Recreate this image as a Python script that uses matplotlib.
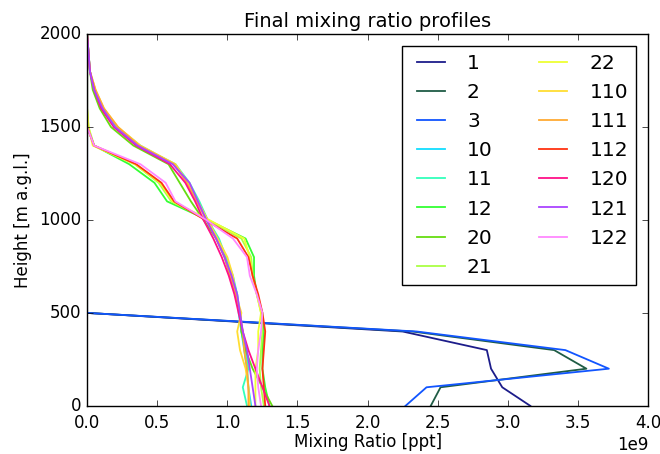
import matplotlib
matplotlib.use("Agg")
import matplotlib.pyplot as plt
import numpy as np

plt.style.use("classic")

heights = [0, 100, 200, 300, 400, 500, 600, 700, 800, 900, 1000,
           1100, 1200, 1300, 1400, 1500, 1600, 1700, 1800, 1900, 2000]

labels = ["1", "2", "3", "10", "11", "12", "20", "21", "22",
          "110", "111", "112", "120", "121", "122"]

colors = ["#1c1c8a", "#1f5c45", "#1155ff", "#11ddff", "#33ffbb", "#33ff33",
          "#66dd11", "#aaff44", "#eeff33", "#ffdd33", "#ffaa33", "#ff3311",
          "#ff1188", "#aa44ff", "#ff88ff"]

# values in units of 1e9 ppt
s1 = [3.16, 2.96, 2.88, 2.85, 2.25, 0, 0, 0, 0, 0, 0, 0, 0, 0, 0, 0, 0, 0, 0, 0, 0]
s2 = [2.45, 2.52, 3.56, 3.33, 2.32, 0, 0, 0, 0, 0, 0, 0, 0, 0, 0, 0, 0, 0, 0, 0, 0]
s3 = [2.27, 2.42, 3.72, 3.41, 2.35, 0, 0, 0, 0, 0, 0, 0, 0, 0, 0, 0, 0, 0, 0, 0, 0]
s10 = [1.17, 1.15, 1.14, 1.12, 1.10, 1.08, 1.07, 1.03, 0.99, 0.93, 0.86, 0.79, 0.72, 0.62, 0.38, 0.21, 0.11, 0.05, 0.02, 0.01, 0.0]
s11 = [1.14, 1.11, 1.15, 1.13, 1.10, 1.09, 1.07, 1.04, 0.99, 0.94, 0.86, 0.80, 0.73, 0.63, 0.37, 0.21, 0.11, 0.05, 0.02, 0.01, 0.0]
s12 = [1.30, 1.27, 1.25, 1.25, 1.26, 1.25, 1.21, 1.19, 1.19, 1.13, 0.86, 0.57, 0.48, 0.30, 0.05, 0.0, 0.0, 0.0, 0.0, 0.0, 0.0]
s20 = [1.32, 1.25, 1.18, 1.13, 1.10, 1.09, 1.06, 1.02, 0.98, 0.92, 0.83, 0.74, 0.66, 0.58, 0.33, 0.17, 0.09, 0.04, 0.02, 0.01, 0.0]
s21 = [1.26, 1.24, 1.23, 1.24, 1.25, 1.24, 1.21, 1.18, 1.17, 1.10, 0.86, 0.60, 0.51, 0.34, 0.05, 0.01, 0.0, 0.0, 0.0, 0.0, 0.0]
s22 = [1.20, 1.20, 1.20, 1.22, 1.22, 1.24, 1.21, 1.18, 1.16, 1.12, 0.87, 0.61, 0.52, 0.34, 0.04, 0.01, 0.0, 0.0, 0.0, 0.0, 0.0]
s110 = [1.16, 1.15, 1.13, 1.09, 1.07, 1.10, 1.06, 1.04, 1.00, 0.93, 0.86, 0.79, 0.72, 0.63, 0.38, 0.22, 0.12, 0.06, 0.02, 0.01, 0.0]
s111 = [1.15, 1.15, 1.14, 1.12, 1.11, 1.09, 1.06, 1.02, 0.98, 0.92, 0.85, 0.78, 0.71, 0.62, 0.37, 0.22, 0.12, 0.06, 0.02, 0.01, 0.0]
s112 = [1.27, 1.26, 1.25, 1.26, 1.27, 1.25, 1.22, 1.18, 1.15, 1.07, 0.84, 0.62, 0.53, 0.35, 0.05, 0.0, 0.0, 0.0, 0.0, 0.0, 0.0]
s120 = [1.30, 1.25, 1.20, 1.15, 1.11, 1.08, 1.05, 1.01, 0.96, 0.90, 0.83, 0.77, 0.70, 0.59, 0.35, 0.19, 0.10, 0.05, 0.02, 0.01, 0.0]
s121 = [1.20, 1.18, 1.16, 1.14, 1.11, 1.09, 1.07, 1.03, 0.98, 0.92, 0.85, 0.79, 0.73, 0.61, 0.36, 0.20, 0.11, 0.05, 0.02, 0.01, 0.0]
s122 = [1.24, 1.22, 1.21, 1.22, 1.24, 1.25, 1.21, 1.16, 1.14, 1.04, 0.85, 0.63, 0.56, 0.38, 0.05, 0.0, 0.0, 0.0, 0.0, 0.0, 0.0]

series = [s1, s2, s3, s10, s11, s12, s20, s21, s22,
          s110, s111, s112, s120, s121, s122]
SCALE = 1e9

fig = plt.figure(figsize=(6.6, 4.54), dpi=100, facecolor="white")
ax = fig.add_axes([0.132, 0.106, 0.85, 0.819])

for lab, col, vals in zip(labels, colors, series):
    ax.plot(np.array(vals) * SCALE, heights, color=col, lw=1.3, label=lab)

ax.set_xlim(0, 4.0e9)
ax.set_ylim(0, 2000)
ax.set_xticks(np.arange(0, 4.01e9, 0.5e9))
ax.set_yticks([0, 500, 1000, 1500, 2000])
ax.set_title("Final mixing ratio profiles", fontsize=14)
ax.set_xlabel("Mixing Ratio [ppt]", fontsize=12, labelpad=1)
ax.set_ylabel("Height [m a.g.l.]", fontsize=12)
ax.tick_params(labelsize=12)
ax.tick_params(axis="x", pad=5.5)
ax.xaxis.get_offset_text().set_fontsize(12)

ax.legend(loc="upper right", ncol=2, fontsize=14.5, labelspacing=0.5,
          borderaxespad=0.6)

fig.savefig("out.png", dpi=100, facecolor="white")
